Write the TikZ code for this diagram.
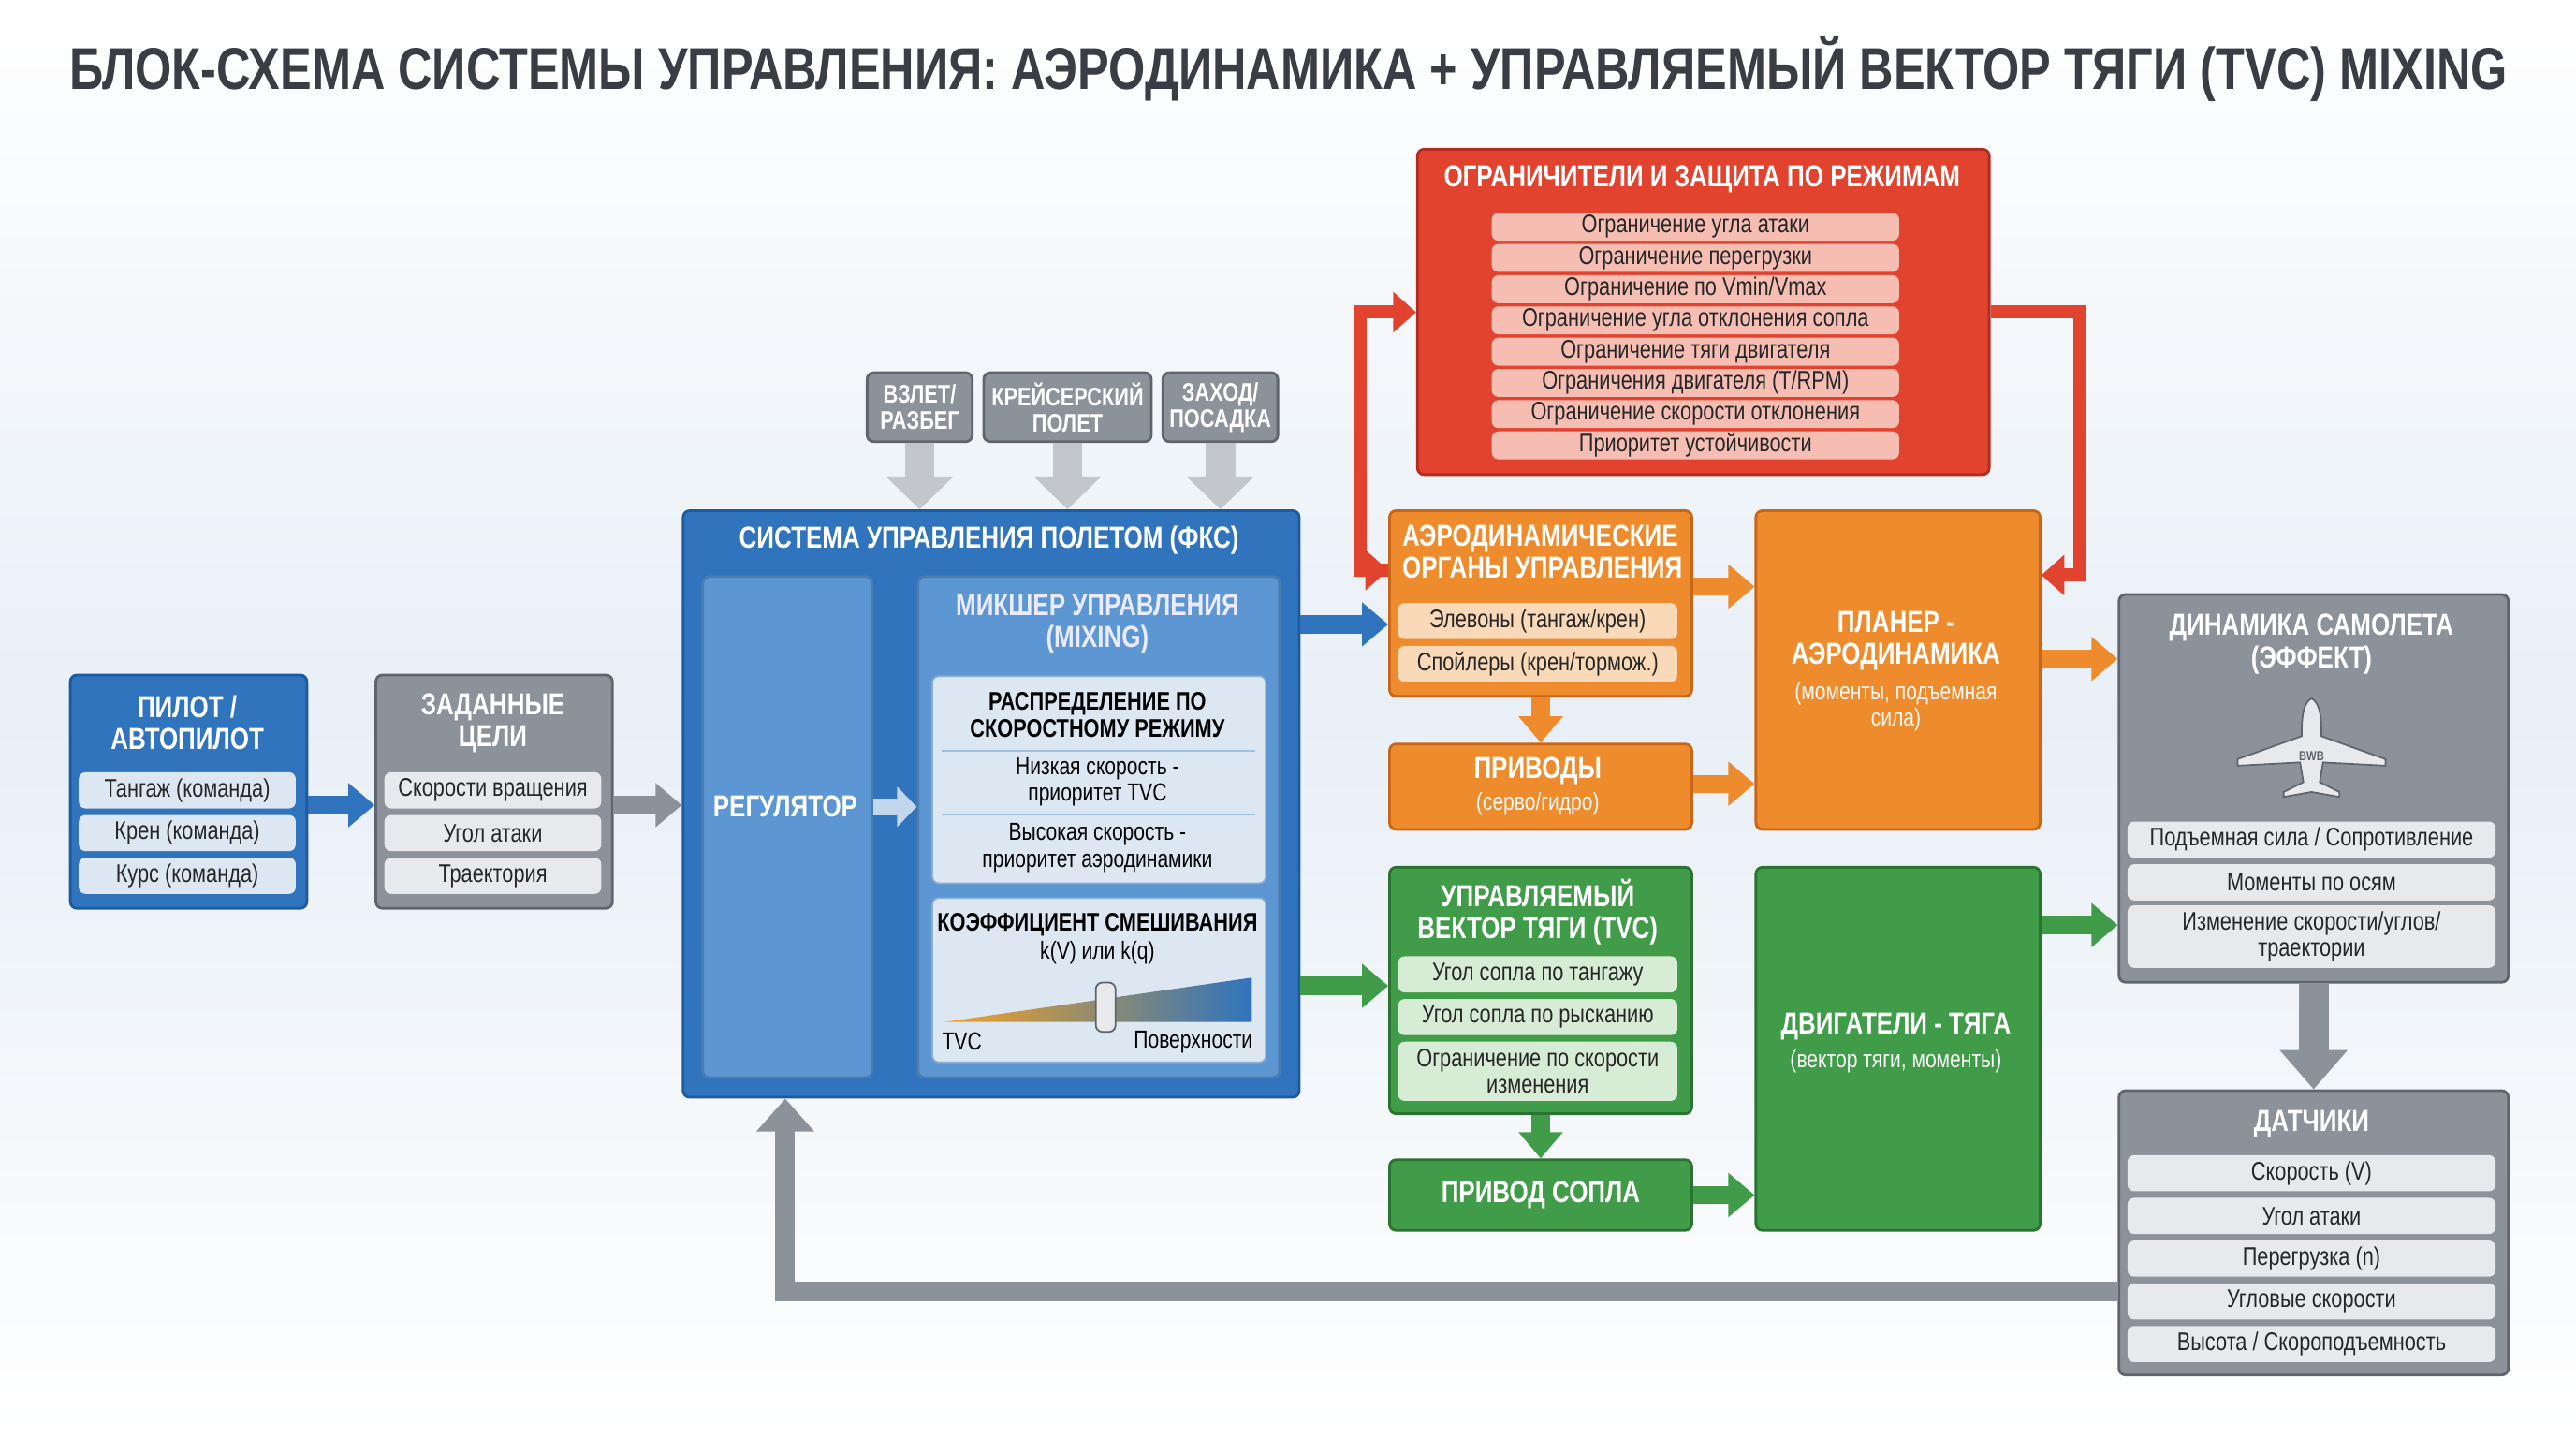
\documentclass[tikz,border=0pt]{standalone}
\usepackage{fontspec}
\setmainfont{Liberation Sans}[FakeStretch=0.80]
\usetikzlibrary{arrows.meta,calc,shadings}
\definecolor{bD}{HTML}{1D5A9E}\definecolor{bM}{HTML}{2F74BD}\definecolor{bL}{HTML}{5C97D3}\definecolor{bP}{HTML}{DCE7F2}\definecolor{bPR}{HTML}{DCE7F2}
\definecolor{gD}{HTML}{5F656D}\definecolor{gM}{HTML}{8C929A}\definecolor{gR}{HTML}{E7E9EC}
\definecolor{oD}{HTML}{C9661A}\definecolor{oM}{HTML}{EE8B2C}\definecolor{oR}{HTML}{F9D9B8}
\definecolor{rD}{HTML}{B32A1E}\definecolor{rM}{HTML}{E1432F}\definecolor{rR}{HTML}{F6BDB3}
\definecolor{nD}{HTML}{2A7331}\definecolor{nM}{HTML}{409C48}\definecolor{nR}{HTML}{D7ECD4}
\definecolor{tit}{HTML}{3A3E44}
\tikzset{
 box/.style={draw=#1D,fill=#1M,line width=1.6pt,rounded corners=4pt,anchor=north west},
 row/.style={fill=#1R,rounded corners=4pt,text=black!85,font=\fontsize{15.5}{16}\selectfont,align=center,inner sep=1pt},
 hd/.style={text=white,font=\fontsize{18.5}{19.5}\selectfont\bfseries,align=center},
 sub/.style={font=\fontsize{15}{16}\selectfont,align=center},
 fat/.style={line width=11pt,draw=#1,-{Triangle[length=16pt,width=26pt]}},
}
\begin{document}
\begin{tikzpicture}[x=1pt,y=-1pt]
\shade[top color=white,bottom color=white,middle color={rgb,255:red,232;green,239;blue,246}] (0,0) rectangle (1568,875);
\useasboundingbox (0,0) rectangle (1568,875);
\node[anchor=west,text=tit,inner sep=0] (title) at (42,42) {\resizebox{1484pt}{!}{\fontsize{30}{32}\selectfont\bfseries БЛОК-СХЕМА СИСТЕМЫ УПРАВЛЕНИЯ: АЭРОДИНАМИКА + УПРАВЛЯЕМЫЙ ВЕКТОР ТЯГИ (TVC) MIXING}};
% Pilot
\node[box=b,minimum width=144pt,minimum height=142pt] (pil) at (42,410) {};
\node[hd] (pilh) at (114,440) {ПИЛОТ /\\АВТОПИЛОТ};
\foreach \t[count=\i] in {Тангаж (команда),Крен (команда),Курс (команда)}
  \node[row=bP,minimum width=132pt,minimum height=22pt] (pr\i) at (114,455+26*\i) {\t};
% Goals
\node[box=g,minimum width=144pt,minimum height=142pt] (goal) at (228,410) {};
\node[hd] (goalh) at (300,440) {ЗАДАННЫЕ\\ЦЕЛИ};
\foreach \t[count=\i] in {Скорости вращения,Угол атаки,Траектория}
  \node[row=g,minimum width=132pt,minimum height=22pt] (gr\i) at (300,455+26*\i) {\t};
% Modes
\node[box=g,minimum width=64pt,minimum height=42pt] (m1) at (527,226) {};
\node[hd,font=\fontsize{15.5}{16}\selectfont\bfseries] at (m1.center) {ВЗЛЕТ/\\РАЗБЕГ};
\node[box=g,minimum width=102pt,minimum height=42pt] (m2) at (598,226) {};
\node[hd,font=\fontsize{15.5}{16}\selectfont\bfseries] at (m2.center) {КРЕЙСЕРСКИЙ\\ПОЛЕТ};
\node[box=g,minimum width=70pt,minimum height=42pt] (m3) at (707,226) {};
\node[hd,font=\fontsize{15.5}{16}\selectfont\bfseries] at (m3.center) {ЗАХОД/\\ПОСАДКА};
% FCS
\node[box=b,minimum width=375pt,minimum height=357pt] (fcs) at (415,310) {};
\node[hd] at (602,329) {СИСТЕМА УПРАВЛЕНИЯ ПОЛЕТОМ (ФКС)};
\node[box=b,fill=bL,draw=bD!80,minimum width=103pt,minimum height=305pt] (reg) at (427,350) {};
\node[hd] at (478,491) {РЕГУЛЯТОР};
\node[box=b,fill=bL,draw=bD!80,minimum width=220pt,minimum height=305pt] (mix) at (558,350) {};
\node[hd,text=white!92!blue] at (668,380) {МИКШЕР УПРАВЛЕНИЯ\\(MIXING)};
\draw[line width=10pt,draw=bP!80!bL,-{Triangle[length=12pt,width=24pt]}] (reg.east|-0,491) -- (mix.west|-0,491);
\node[box=b,fill=bP,draw=bD!50,line width=1pt,minimum width=203pt,minimum height=126pt] (dist) at (567,411) {};
\node[font=\fontsize{15.5}{16.5}\selectfont\bfseries,align=center] at (668,435) {РАСПРЕДЕЛЕНИЕ ПО\\СКОРОСТНОМУ РЕЖИМУ};
\draw[bL!60,line width=0.8pt] (573,457)--(764,457) (573,496)--(764,496);
\node[sub] at (668,476) {Низкая скорость -\\приоритет TVC};
\node[sub] at (668,516) {Высокая скорость -\\приоритет аэродинамики};
\node[box=b,fill=bP,draw=bD!50,line width=1pt,minimum width=203pt,minimum height=100pt] (coef) at (567,546) {};
\node[font=\fontsize{15.5}{16}\selectfont\bfseries] at (668,563) {КОЭФФИЦИЕНТ СМЕШИВАНИЯ};
\node[sub] at (668,580) {k(V) или k(q)};
\shade[left color=oM!80!yellow,right color=bM] (575,622) -- (762,595) -- (762,622) -- cycle;
\draw[gD,fill=gR,line width=1pt,rounded corners=4pt] (667,598) rectangle (679,628);
\node[sub,anchor=west] at (570,634) {TVC};
\node[sub,anchor=east] at (766,634) {Поверхности};
% Red
\node[box=r,minimum width=348pt,minimum height=198pt] (red) at (862,90) {};
\node[hd] at (1036,109) {ОГРАНИЧИТЕЛИ И ЗАЩИТА ПО РЕЖИМАМ};
\foreach \t[count=\i] in {Ограничение угла атаки,Ограничение перегрузки,Ограничение по Vmin/Vmax,Ограничение угла отклонения сопла,Ограничение тяги двигателя,Ограничения двигателя (T/RPM),Ограничение скорости отклонения,Приоритет устойчивости}
  \node[row=r,minimum width=248pt,minimum height=17pt] (rr\i) at (1032,119+19*\i) {\t};
% Aero
\node[box=o,minimum width=184pt,minimum height=113pt] (aero) at (845,310) {};
\node[hd,align=left,anchor=north west] at (850,316) {АЭРОДИНАМИЧЕСКИЕ\\ОРГАНЫ УПРАВЛЕНИЯ};
\node[row=o,minimum width=170pt,minimum height=22pt] (ar1) at (936,378) {Элевоны (тангаж/крен)};
\node[row=o,minimum width=170pt,minimum height=22pt] (ar2) at (936,404) {Спойлеры (крен/тормож.)};
\node[box=o,minimum width=184pt,minimum height=52pt] (priv) at (845,452) {};
\node[hd,text=white] at (936,469) {ПРИВОДЫ};
\node[sub,text=white!85!oR] at (936,489) {(серво/гидро)};
\node[box=o,minimum width=173pt,minimum height=194pt] (plan) at (1068,310) {};
\node[hd] at (1154,390) {ПЛАНЕР -\\АЭРОДИНАМИКА};
\node[sub,text=white!85!oR] at (1154,430) {(моменты, подъемная\\сила)};
% TVC
\node[box=n,minimum width=184pt,minimum height=150pt] (tvc) at (845,527) {};
\node[hd] at (936,555) {УПРАВЛЯЕМЫЙ\\ВЕКТОР ТЯГИ (TVC)};
\node[row=n,minimum width=170pt,minimum height=22pt] (tr1) at (936,593) {Угол сопла по тангажу};
\node[row=n,minimum width=170pt,minimum height=22pt] (tr2) at (936,619) {Угол сопла по рысканию};
\node[row=n,minimum width=170pt,minimum height=36pt] (tr3) at (936,652) {Ограничение по скорости\\изменения};
\node[box=n,minimum width=184pt,minimum height=43pt] (noz) at (845,705) {};
\node[hd] at (noz.center) {ПРИВОД СОПЛА};
\node[box=n,minimum width=173pt,minimum height=221pt] (eng) at (1068,527) {};
\node[hd] at (1154,625) {ДВИГАТЕЛИ - ТЯГА};
\node[sub,text=white!85!nR] at (1154,646) {(вектор тяги, моменты)};
% Dynamics
\node[box=g,minimum width=237pt,minimum height=236pt] (dyn) at (1289,361) {};
\node[hd] at (1407,392) {ДИНАМИКА САМОЛЕТА\\(ЭФФЕКТ)};
\draw[gD,fill=gR,line width=1pt] (1407,425) .. controls (1401,428) and (1401,440) .. (1401,448) -- (1362,462) -- (1362,466) -- (1400,464) -- (1402,476) -- (1390,482) -- (1390,485) -- (1407,482) -- (1424,485) -- (1424,482) -- (1412,476) -- (1414,464) -- (1452,466) -- (1452,462) -- (1413,448) .. controls (1413,440) and (1413,428) .. (1407,425) -- cycle;
\node[font=\fontsize{8}{8}\selectfont\bfseries,text=gD] at (1407,460) {BWB};
\node[row=g,minimum width=224pt,minimum height=22pt] (dr1) at (1407,511) {Подъемная сила / Сопротивление};
\node[row=g,minimum width=224pt,minimum height=22pt] (dr2) at (1407,537) {Моменты по осям};
\node[row=g,minimum width=224pt,minimum height=38pt] (dr3) at (1407,570) {Изменение скорости/углов/\\траектории};
\node[box=g,minimum width=237pt,minimum height=173pt] (sens) at (1289,663) {};
\node[hd] at (1407,684) {ДАТЧИКИ};
\foreach \t[count=\i] in {Скорость (V),Угол атаки,Перегрузка (n),Угловые скорости,Высота / Скороподъемность}
  \node[row=g,minimum width=224pt,minimum height=22pt] (sr\i) at (1407,688+26*\i) {\t};
% Connectors
\draw[fat=bM] (pil.east|-0,490) -- (goal.west|-0,490);
\draw[fat=gM] (goal.east|-0,490) -- (fcs.west|-0,490);
\foreach \m in {m1,m2,m3} \draw[line width=18pt,draw=gR!60!gM,-{Triangle[length=20pt,width=40pt]}] (\m.south) -- (\m.south|-fcs.north);
\draw[fat=bM] (fcs.east|-0,380) -- (aero.west|-0,380);
\draw[fat=nM] (fcs.east|-0,600) -- (tvc.west|-0,600);
\draw[fat=oM] (aero.east|-0,357) -- (plan.west|-0,357);
\draw[fat=oM] (priv.east|-0,477) -- (plan.west|-0,477);
\draw[fat=oM] (aero.south) -- (priv.north);
\draw[fat=oM] (plan.east|-0,401) -- (dyn.west|-0,401);
\draw[fat=nM] (tvc.south) -- (noz.north);
\draw[fat=nM] (noz.east) -- (noz.east-|eng.west);
\draw[fat=nM] (eng.east|-0,563) -- (dyn.west|-0,563);
\draw[line width=18pt,gM,-{Triangle[length=24pt,width=40pt]}] (dyn.south) -- (sens.north);
\coordinate (rl) at (828,190);
\draw[line width=8pt,rM,-{Triangle[length=14pt,width=24pt]}] (aero.west|-0,347) -| (rl) -- (red.west|-0,190);
\draw[line width=8pt,rM,-{Triangle[length=14pt,width=24pt]}] (rl|-0,347) -- (aero.west|-0,347);
\draw[line width=8pt,rM,-{Triangle[length=14pt,width=24pt]}] (red.east|-0,190) -- (1266,190) |- (plan.east|-0,350);
\coordinate (fb) at (478,786);
\draw[line width=12pt,gM,-{Triangle[length=20pt,width=34pt]}] (sens.west|-fb) -- (fb) -- (fb|-fcs.south);
\end{tikzpicture}
\end{document}
